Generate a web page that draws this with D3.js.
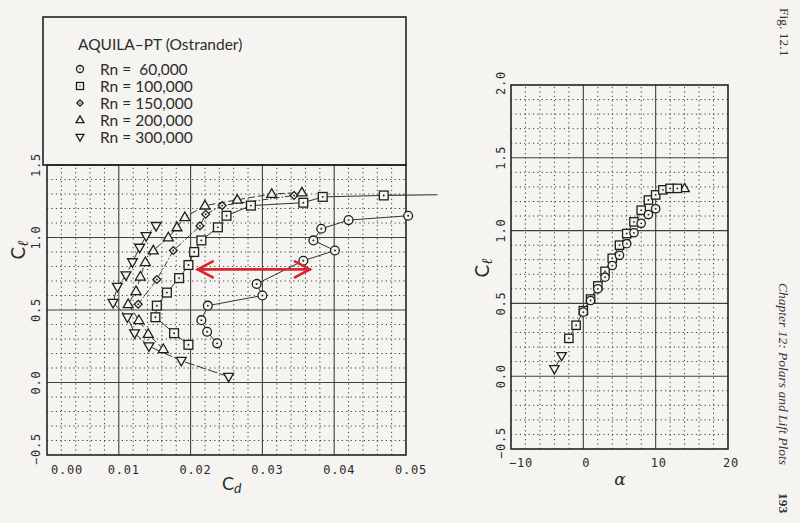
<!DOCTYPE html>
<html><head><meta charset="utf-8">
<script src="https://cdn.jsdelivr.net/npm/d3@7"></script>
<style>
html,body{margin:0;padding:0;background:#f5f4f1;}
svg{display:block;}
</style></head>
<body><svg id="c" width="800" height="523"></svg>
<script>
// ---------- DATA ----------
const chartTitle = "AQUILA\u2013PT (Ostrander)";
const seriesNames = ["Rn =  60,000","Rn = 100,000","Rn = 150,000","Rn = 200,000","Rn = 300,000"];
const seriesSymbols = ["circle","square","diamond","triUp","triDown"];

const cdTicks = [0, 0.01, 0.02, 0.03, 0.04, 0.05];
const cdTickLabels = ["0.00","0.01","0.02","0.03","0.04","0.05"];
const clTicksLeft = [-0.5, 0, 0.5, 1.0, 1.5];
const clTickLabelsLeft = ["\u22120.5","0.0","0.5","1.0","1.5"];
const alphaTicks = [-10, 0, 10, 20];
const alphaTickLabels = ["\u221210","0","10","20"];
const clTicksRight = [-0.5, 0, 0.5, 1.0, 1.5, 2.0];
const clTickLabelsRight = ["\u22120.5","0.0","0.5","1.0","1.5","2.0"];

// drag polar: [Cd, Cl]
const polar60k = [[0.0237,0.27],[0.0223,0.35],[0.0215,0.43],[0.0224,0.53],[0.0300,0.60],[0.0292,0.68],[0.0357,0.84],[0.0401,0.91],[0.0371,0.98],[0.0382,1.06],[0.0420,1.12],[0.0503,1.15]];
const polar100k = [[0.0197,0.26],[0.0177,0.34],[0.0151,0.45],[0.0153,0.53],[0.0167,0.62],[0.0184,0.72],[0.0197,0.81],[0.0205,0.90],[0.0215,0.98],[0.0238,1.07],[0.0250,1.15],[0.0284,1.22],[0.0357,1.24],[0.0384,1.28],[0.0469,1.29]];
const polar100kTail = [[0.0469,1.29],[0.0544,1.295]];
const polar150k = [[0.0127,0.54],[0.0153,0.71],[0.0176,0.91],[0.0213,1.08],[0.0221,1.16],[0.0244,1.22],[0.0344,1.29]];
const polar200k = [[0.0162,0.23],[0.0141,0.335],[0.0128,0.43],[0.0113,0.54],[0.0124,0.63],[0.0130,0.73],[0.0137,0.83],[0.0148,0.91],[0.0169,1.00],[0.0181,1.07],[0.0192,1.14],[0.0220,1.22],[0.0265,1.26],[0.0313,1.30],[0.0355,1.31]];
const polar300k = [[0.0253,0.04],[0.0187,0.15],[0.0142,0.25],[0.0122,0.34],[0.0112,0.45],[0.0092,0.55],[0.0098,0.66],[0.0110,0.74],[0.0119,0.83],[0.0129,0.93],[0.0138,1.01],[0.0152,1.08]];

// lift curve: [alpha, Cl]
const lift60k = [[0,0.44],[1,0.52],[2,0.60],[3,0.68],[4,0.76],[5,0.83],[6,0.91],[7,0.985],[8,1.05],[9,1.11],[10,1.15]];
const lift100k = [[-2,0.26],[-1,0.35],[0,0.45],[1,0.53],[2,0.62],[3,0.72],[4,0.81],[5,0.90],[6,0.98],[7,1.06],[8,1.14],[9,1.21],[10,1.245],[11,1.28],[12,1.29],[13,1.29]];
const lift200k = [[14,1.29]];
const lift300k = [[-4,0.05],[-3,0.14]];

// red annotation arrow (Cd range at Cl)
const arrowCd = [0.0210, 0.0366];
const arrowCl = [0.78, 0.78];

// ---------- DRAW ----------
const svg = d3.select("#c");
const paper = "#f5f4f1", ink = "#2b2b2b";
const plotFont = "Lato, 'DejaVu Sans', sans-serif";
const monoFont = "'DejaVu Sans Mono', monospace";

const xL = d3.scaleLinear().domain([0,0.05]).range([47,406]);
const yL = d3.scaleLinear().domain([-0.5,1.5]).range([455,165]);
const xR = d3.scaleLinear().domain([-10,20]).range([511,728]);
const yR = d3.scaleLinear().domain([-0.5,2.0]).range([449,85]);

function grid(g, x, y, xMinor, yMinor, xMajor, yMajor) {
  const [x0,x1] = x.range(), [y0,y1] = y.range();
  g.append("g").selectAll("line").data(xMinor).join("line")
    .attr("x1",d=>x(d)).attr("x2",d=>x(d)).attr("y1",y0).attr("y2",y1)
    .attr("stroke","#3a3a3a").attr("stroke-width",1).attr("stroke-dasharray","1.2,3.2");
  g.append("g").selectAll("line").data(yMinor).join("line")
    .attr("y1",d=>y(d)).attr("y2",d=>y(d)).attr("x1",x0).attr("x2",x1)
    .attr("stroke","#3a3a3a").attr("stroke-width",1).attr("stroke-dasharray","1.2,3.2");
  g.append("g").selectAll("line").data(xMajor).join("line")
    .attr("x1",d=>x(d)).attr("x2",d=>x(d)).attr("y1",y0).attr("y2",y1)
    .attr("stroke","#404040").attr("stroke-width",1.1);
  g.append("g").selectAll("line").data(yMajor).join("line")
    .attr("y1",d=>y(d)).attr("y2",d=>y(d)).attr("x1",x0).attr("x2",x1)
    .attr("stroke","#404040").attr("stroke-width",1.1);
  g.append("rect").attr("x",x0).attr("y",y1).attr("width",x1-x0).attr("height",y0-y1)
    .attr("fill","none").attr("stroke","#222").attr("stroke-width",1.6);
}

function range(a,b,s){const r=[];for(let v=a;v<=b+1e-9;v+=s)r.push(+v.toFixed(6));return r;}

// ---- left chart ----
const gL = svg.append("g");
gL.append("rect").attr("x",43).attr("y",17).attr("width",406-43).attr("height",165-17)
  .attr("fill","none").attr("stroke","#222").attr("stroke-width",1.6);
grid(gL.append("g"), xL, yL,
  range(0,0.05,0.002).filter(v=>Math.abs(v*100-Math.round(v*100))>1e-6),
  range(-0.5,1.5,0.1).filter(v=>Math.abs(v*2-Math.round(v*2))>1e-6),
  cdTicks.slice(1,-1), clTicksLeft.slice(1,-1));

// ---- right chart ----
const gR = svg.append("g");
grid(gR.append("g"), xR, yR,
  range(-10,20,2).filter(v=>v%10!==0),
  range(-0.5,2.0,0.1).filter(v=>Math.abs(v*2-Math.round(v*2))>1e-6),
  alphaTicks.slice(1,-1), clTicksRight.slice(1,-1));

function drawSym(g, type, cx, cy, s) {
  const k = s||1;
  let el;
  if (type==="circle") el = g.append("circle").attr("cx",cx).attr("cy",cy).attr("r",4.4*k);
  else if (type==="square") el = g.append("rect").attr("x",cx-4.4*k).attr("y",cy-4.4*k).attr("width",8.8*k).attr("height",8.8*k);
  else if (type==="diamond") { const r=3.9*k; el = g.append("path").attr("d",`M${cx},${cy-r}L${cx+r},${cy}L${cx},${cy+r}L${cx-r},${cy}Z`); }
  else if (type==="triUp") { const r=5.2*k; el = g.append("path").attr("d",`M${cx},${cy-r}L${cx+r*0.95},${cy+r*0.65}L${cx-r*0.95},${cy+r*0.65}Z`); }
  else { const r=5.2*k; el = g.append("path").attr("d",`M${cx},${cy+r}L${cx+r*0.95},${cy-r*0.65}L${cx-r*0.95},${cy-r*0.65}Z`); }
  el.attr("fill",paper).attr("stroke","#1e1e1e").attr("stroke-width",1.3);
  if (type!=="triUp" && type!=="triDown")
    g.append("circle").attr("cx",cx).attr("cy",cy).attr("r",0.95*k).attr("fill","#222");
}

const dashes = [null, null, "6,2,1.5,2", "7,3", "10,2"];
const polars = [polar60k, polar100k, polar150k, polar200k, polar300k];
const lifts = [lift60k, lift100k, [], lift200k, lift300k];

const lineL = d3.line().x(d=>xL(d[0])).y(d=>yL(d[1]));
const lineR = d3.line().x(d=>xR(d[0])).y(d=>yR(d[1]));

const linesL = svg.append("g"), marksL = svg.append("g");
polars.forEach((p,i)=>{
  linesL.append("path").attr("d",lineL(p)).attr("fill","none").attr("stroke","#333")
    .attr("stroke-width",1).attr("stroke-dasharray",dashes[i]);
});
linesL.append("path").attr("d",lineL(polar100kTail)).attr("fill","none").attr("stroke","#333").attr("stroke-width",1.2);
polars.forEach((p,i)=>p.forEach(d=>drawSym(marksL, seriesSymbols[i], xL(d[0]), yL(d[1]))));

const linesR = svg.append("g"), marksR = svg.append("g");
lifts.forEach((p,i)=>{
  if (p.length>1) linesR.append("path").attr("d",lineR(p)).attr("fill","none").attr("stroke","#333")
    .attr("stroke-width",1).attr("stroke-dasharray",dashes[i]);
});
[lift300k, lift200k, lift100k, lift60k].forEach(p=>{
  const i = lifts.indexOf(p);
  p.forEach(d=>drawSym(marksR, seriesSymbols[i], xR(d[0]), yR(d[1]), 0.95));
});

// legend
const lg = svg.append("g").attr("font-family",plotFont).attr("fill",ink);
lg.append("text").attr("x",78).attr("y",50).attr("font-size",15.5).text(chartTitle);
seriesNames.forEach((n,i)=>{
  const yy = 69 + i*17;
  drawSym(lg, seriesSymbols[i], 80, yy, 0.8);
  lg.append("text").attr("x",100).attr("y",yy+5.5).attr("font-size",15.5).style("white-space","pre").text(n);
});

// tick labels
const tl = svg.append("g").attr("font-family",monoFont).attr("font-size",12).attr("fill",ink);
tl.selectAll(".xl").data(cdTicks).join("text")
  .attr("x",(d,i)=> i===0 ? xL(d)+4 : xL(d)+5).attr("y",474)
  .attr("text-anchor",(d,i)=> i===0 ? "start" : "middle").attr("letter-spacing",0.8)
  .text((d,i)=>cdTickLabels[i]);
tl.selectAll(".yl").data(clTicksLeft).join("text")
  .attr("transform",(d,i)=>`translate(40,${yL(d) - (i===0?6:0)}) rotate(-90)`)
  .attr("text-anchor","middle").attr("letter-spacing",0.8)
  .text((d,i)=>clTickLabelsLeft[i]);
tl.selectAll(".xr").data(alphaTicks).join("text")
  .attr("x",(d,i)=> i===0 ? xR(d)-2 : xR(d)+3).attr("y",467)
  .attr("text-anchor",(d,i)=> i===0 ? "start" : "middle").attr("letter-spacing",0.8)
  .text((d,i)=>alphaTickLabels[i]);
tl.selectAll(".yr").data(clTicksRight).join("text")
  .attr("transform",(d,i)=>`translate(505,${yR(d) - (i===0?6:(i===clTicksRight.length-1?2:0))}) rotate(-90)`)
  .attr("text-anchor","middle").attr("letter-spacing",0.8)
  .text((d,i)=>clTickLabelsRight[i]);

// axis titles
const at = svg.append("g").attr("font-family",plotFont).attr("fill",ink);
const cd = at.append("text").attr("x",222).attr("y",490).attr("font-size",18);
cd.append("tspan").text("C");
cd.append("tspan").attr("dy",3).attr("font-size",14).attr("font-style","italic").text("d");
[[25,250],[489,268]].forEach(([x,y])=>{
  const t = at.append("text").attr("transform",`translate(${x},${y}) rotate(-90)`).attr("text-anchor","middle").attr("font-size",19);
  t.append("tspan").text("C");
  t.append("tspan").attr("dy",3).attr("font-size",15).attr("font-style","italic").attr("font-family","'DejaVu Serif', serif").text("\u2113");
});
at.append("text").attr("x",620).attr("y",485).attr("text-anchor","middle").attr("font-size",17)
  .attr("font-style","italic").attr("font-family","'DejaVu Serif', serif").text("\u03B1");

// red arrow
const ax1 = xL(arrowCd[0]), ax2 = xL(arrowCd[1]), ay1 = yL(arrowCl[0]), ay2 = yL(arrowCl[1]);
const red = "#d8262f";
const ag = svg.append("g").attr("stroke",red).attr("stroke-width",2.6).attr("fill","none").attr("stroke-linecap","round");
ag.append("line").attr("x1",ax1).attr("y1",ay1).attr("x2",ax2).attr("y2",ay2);
ag.append("path").attr("d",`M${ax1+15},${ay1-8}L${ax1},${ay1}L${ax1+15},${ay1+8}`);
ag.append("path").attr("d",`M${ax2-15},${ay2-8}L${ax2},${ay2}L${ax2-15},${ay2+8}`);

// page text (rotated)
const pg = svg.append("g").attr("font-family","'Liberation Serif', 'DejaVu Serif', serif").attr("fill","#333");
pg.append("text").attr("transform","translate(780,8) rotate(90)").attr("font-size",13.5).text("Fig. 12.1");
pg.append("text").attr("transform","translate(779,283) rotate(90)").attr("font-size",13.5).attr("font-style","italic").text("Chapter 12: Polars and Lift Plots");
pg.append("text").attr("transform","translate(779,493) rotate(90)").attr("font-size",13.5).attr("font-weight","bold").text("193");
</script></body></html>
